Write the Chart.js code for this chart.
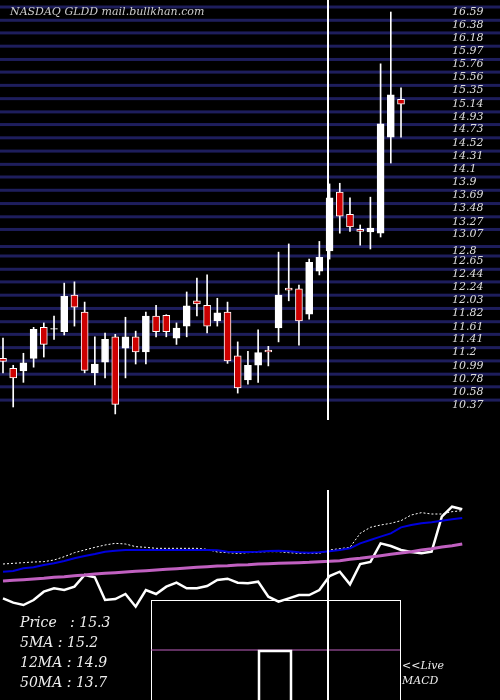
<!DOCTYPE html>
<html><head><meta charset="utf-8">
<script src="https://cdn.jsdelivr.net/npm/chart.js@4"></script>
<style>
body{margin:0;background:#000;width:500px;height:700px;overflow:hidden;position:relative}
canvas{position:absolute;left:0}
.t{position:absolute;font-family:"DejaVu Serif","Liberation Serif",serif;font-style:italic;color:#eee}
</style></head><body>
<canvas id="p" style="top:0" width="500" height="420"></canvas>
<canvas id="m" style="top:490px" width="500" height="210"></canvas>
<div class="t" style="left:20px;top:614px;font-size:14px">Price&nbsp;&nbsp;&nbsp;: 15.3</div>
<div class="t" style="left:20px;top:634px;font-size:14px">5MA : 15.2</div>
<div class="t" style="left:20px;top:654px;font-size:14px">12MA : 14.9</div>
<div class="t" style="left:20px;top:674px;font-size:14px">50MA : 13.7</div>
<div class="t" style="left:402px;top:659px;font-size:11px">&lt;&lt;Live</div>
<div class="t" style="left:402px;top:674px;font-size:11px">MACD</div>
<script>
const opens = [11.11,10.95,10.91,11.11,11.60,11.57,11.53,12.11,11.84,10.88,11.05,11.45,11.27,11.45,11.21,11.78,11.79,11.43,11.62,12.02,11.95,11.70,11.84,11.15,10.77,11.00,11.24,11.59,12.22,12.21,11.81,12.49,12.81,13.74,13.39,13.15,13.11,13.09,14.61,15.21];
const closes= [11.06,10.80,11.04,11.57,11.33,11.58,12.09,11.92,10.92,11.02,11.41,10.38,11.45,11.21,11.78,11.53,11.53,11.59,11.94,11.97,11.62,11.83,11.07,10.64,11.00,11.20,11.21,12.11,12.19,11.70,12.63,12.71,13.65,13.36,13.19,13.12,13.17,14.82,15.28,15.13];
const highs = [11.43,11.00,11.19,11.60,11.67,11.78,12.30,12.32,12.00,11.45,11.51,11.49,11.76,11.54,11.84,11.95,11.80,11.67,12.16,12.38,12.43,12.06,12.00,11.37,11.22,11.56,11.30,12.79,12.92,12.27,12.68,12.96,13.87,13.88,13.65,13.22,13.66,15.77,16.59,15.39];
const lows  = [10.88,10.34,10.73,10.97,11.13,11.41,11.48,11.62,10.88,10.69,10.80,10.23,10.80,11.02,11.02,11.45,11.45,11.33,11.45,11.78,11.51,11.62,11.03,10.56,10.70,10.73,10.99,11.37,12.02,11.32,11.73,12.43,12.68,13.09,13.12,12.90,12.84,13.03,14.20,14.61];
const priceTicks = ["16.59","16.38","16.18","15.97","15.76","15.56","15.35","15.14","14.93","14.73","14.52","14.31","14.1","13.9","13.69","13.48","13.27","13.07","12.8","12.65","12.44","12.24","12.03","11.82","11.61","11.41","11.2","10.99","10.78","10.58","10.37"];
const ma5  = [222,220,218,216,215,210,200,188,180,172,165,160,162,170,172,175,175,175,175,175,178,186,188,190,188,186,185,185,188,190,190,190,180,176,172,130,112,105,100,92,75,68,72,72,65,62];
const ma12 = [245,243,235,232,225,220,213,205,198,192,185,182,180,180,180,180,180,180,180,180,180,181,185,186,186,185,183,182,184,187,188,187,184,180,175,160,150,140,130,112,105,100,97,92,88,84];
const ma50 = [273,271,269,267,265,262,260,257,255,252,250,248,246,244,242,240,238,236,234,232,230,228,227,225,224,222,221,220,219,218,217,215,214,212,208,205,201,197,193,189,185,180,176,171,167,162];
const osc  = [325,338,345,330,305,295,300,290,255,262,330,327,312,350,300,312,290,278,295,295,288,270,266,278,280,275,320,335,325,315,315,300,258,245,283,222,216,160,168,180,186,190,185,80,50,58];

const XMIN=-0.294, XMAX=48.7;
const idx = opens.map((_,i)=>i);
const vline = {id:'vl', afterDraw(c){const g=c.ctx;g.save();g.strokeStyle='#fff';g.lineWidth=2;g.beginPath();g.moveTo(328,0);g.lineTo(328,c.height);g.stroke();g.restore();}};

const gridPlug = {id:'grid', beforeDatasetsDraw(c){
  const g=c.ctx, y=c.scales.y; g.save();
  g.fillStyle='#1e1e5c';
  priceTicks.forEach(t=>{const py=y.getPixelForValue(parseFloat(t))-5; g.fillRect(0,py-1.5,500,3);});
  g.fillStyle='#ddd'; g.font='italic 11px "DejaVu Serif",serif'; g.textBaseline='middle';
  priceTicks.forEach(t=>{g.fillText(t,452,y.getPixelForValue(parseFloat(t)));});
  g.fillStyle='#ccc';
  g.fillText('NASDAQ GLDD mail.bullkhan.com',10,12);
  g.restore();}};

new Chart(document.getElementById('p'),{
  type:'bar',
  data:{datasets:[
    {data:idx.map(i=>({x:i,y:[lows[i],highs[i]]})),backgroundColor:'#fff',barThickness:1,grouped:false,order:2},
    {data:idx.map(i=>({x:i,y:[opens[i],closes[i]]})),
     backgroundColor:idx.map(i=>closes[i]<opens[i]?'#cc0000':'#fff'),borderColor:'#fff',borderWidth:1,borderSkipped:false,barThickness:7,grouped:false,order:1}
  ]},
  options:{responsive:false,animation:false,layout:{padding:0},
    plugins:{legend:{display:false},tooltip:{enabled:false}},
    scales:{x:{type:'linear',offset:false,min:XMIN,max:XMAX,display:false},y:{min:10.134,max:16.78,display:false}}},
  plugins:[gridPlug,vline]
});

const macdPlug={id:'macd',afterDatasetsDraw(c){const g=c.ctx;g.save();
  g.strokeStyle='#fff';g.lineWidth=1;g.strokeRect(151.5,110.5,249,120);
  g.strokeStyle='#c060c0';g.beginPath();g.moveTo(151,160);g.lineTo(400,160);g.stroke();
  g.strokeStyle='#fff';g.lineWidth=2.5;g.beginPath();g.moveTo(259,210);g.lineTo(259,161);g.lineTo(291,161);g.lineTo(291,210);g.stroke();
  g.restore();}};
const L=(d,col,w,dash)=>({type:'line',data:d.map((v,i)=>({x:i,y:v})),borderColor:col,borderWidth:w,borderDash:dash||[],pointRadius:0,tension:0});
new Chart(document.getElementById('m'),{
  type:'line',
  data:{datasets:[L(ma50,'#c060c0',3),L(ma12,'#0000dd',2),L(ma5,'#fff',1,[2,2]),L(osc,'#fff',2.5)]},
  options:{responsive:false,animation:false,layout:{padding:0},
    plugins:{legend:{display:false},tooltip:{enabled:false}},
    scales:{x:{type:'linear',min:XMIN,max:XMAX,display:false},y:{min:0,max:630,reverse:true,display:false}}},
  plugins:[macdPlug,vline]
});
</script></body></html>
